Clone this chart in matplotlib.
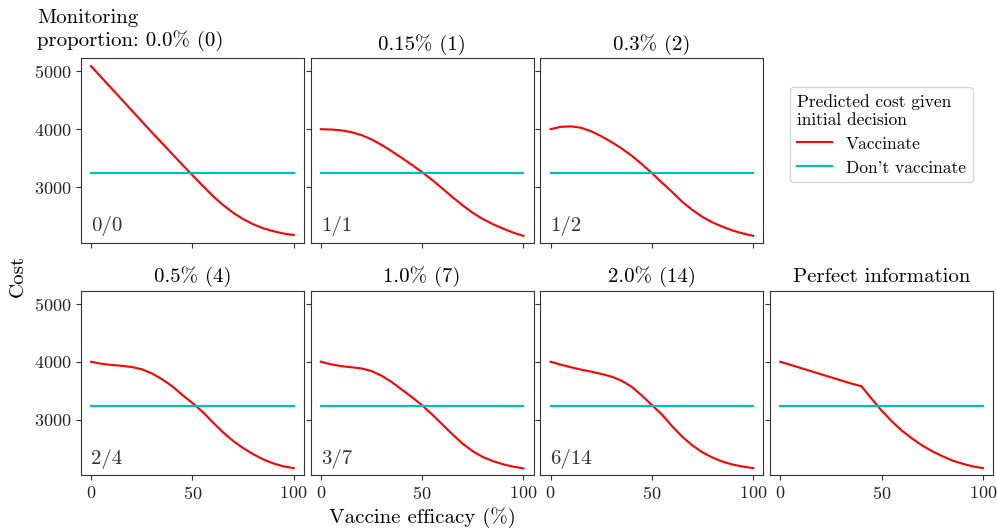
import numpy as np
import matplotlib
matplotlib.use("Agg")
import matplotlib.pyplot as plt

plt.rcParams["font.family"] = "serif"
plt.rcParams["font.serif"] = ["cmr10"]
plt.rcParams["mathtext.fontset"] = "cm"
plt.rcParams["axes.formatter.use_mathtext"] = True

# vaccine efficacy (%)
efficacy = [0, 5, 10, 15, 20, 25, 30, 35, 40, 45, 50,
            55, 60, 65, 70, 75, 80, 85, 90, 95, 100]

# predicted cost of vaccinating, one curve per monitoring level
cost_0 = [5085, 4895, 4705, 4515, 4325, 4135, 3945, 3760, 3575, 3390, 3210,
          3030, 2855, 2700, 2565, 2455, 2365, 2295, 2245, 2205, 2180]
cost_015 = [4000, 3995, 3980, 3950, 3900, 3825, 3730, 3620, 3505, 3385, 3260,
            3125, 2980, 2830, 2690, 2560, 2455, 2365, 2290, 2220, 2165]
cost_03 = [4000, 4040, 4050, 4025, 3965, 3880, 3780, 3670, 3545, 3400, 3245,
           3080, 2920, 2750, 2610, 2490, 2395, 2320, 2255, 2205, 2165]
cost_05 = [4000, 3965, 3945, 3930, 3910, 3870, 3800, 3700, 3580, 3430, 3290,
           3140, 2960, 2790, 2640, 2515, 2410, 2320, 2250, 2200, 2170]
cost_10 = [4000, 3955, 3925, 3905, 3885, 3840, 3760, 3650, 3520, 3390, 3250,
           3090, 2920, 2750, 2590, 2460, 2360, 2290, 2235, 2195, 2165]
cost_20 = [4000, 3950, 3905, 3865, 3830, 3790, 3745, 3675, 3570, 3420, 3255,
           3090, 2890, 2710, 2560, 2440, 2350, 2280, 2230, 2195, 2170]
cost_perfect = [4000, 3946, 3893, 3839, 3786, 3732, 3679, 3625, 3580, 3365, 3160,
                2975, 2815, 2680, 2560, 2460, 2375, 2300, 2245, 2200, 2170]

# predicted cost of not vaccinating (flat)
cost_no_vacc = 3240

titles = ["Monitoring\nproportion: 0.0% (0)", "0.15% (1)", "0.3% (2)",
          "0.5% (4)", "1.0% (7)", "2.0% (14)", "Perfect information"]
counts = ["0/0", "1/1", "1/2", "2/4", "3/7", "6/14", ""]
curves = [cost_0, cost_015, cost_03, cost_05, cost_10, cost_20, cost_perfect]
cells = [(0, 0), (0, 1), (0, 2), (1, 0), (1, 1), (1, 2), (1, 3)]

fig, axes = plt.subplots(2, 4, figsize=(9.97, 5.32), dpi=100,
                         sharex=True, sharey=True)
fig.subplots_adjust(left=0.0812, right=0.996, top=0.891, bottom=0.107,
                    wspace=0.031, hspace=0.26)

for title, count, curve, (r, c) in zip(titles, counts, curves, cells):
    ax = axes[r, c]
    ax.plot(efficacy, curve, color="r", lw=1.5, label="Vaccinate")
    ax.plot([efficacy[0], efficacy[-1]], [cost_no_vacc, cost_no_vacc],
            color="c", lw=1.6, label="Don't vaccinate")
    if r == 0 and c == 0:
        ax.text(-0.198, 1.04, title, transform=ax.transAxes, ha="left",
                va="bottom", fontsize=15)
    else:
        ax.set_title(title, fontsize=15)
    if count:
        ax.text(0.045, 0.06, count, transform=ax.transAxes, fontsize=15,
                color="#333333")
    for s in ax.spines.values():
        s.set_color("#333333")
    ax.tick_params(labelsize=13, colors="#333333", labelcolor="#222222")

ax_leg = axes[0, 3]
ax_leg.axis("off")
handles, labels = axes[0, 0].get_legend_handles_labels()
ax_leg.legend(handles, labels, loc="upper center", bbox_to_anchor=(0.5, 0.89),
              title="Predicted cost given\ninitial decision", fontsize=12.5,
              title_fontsize=12.5, alignment="left")

axes[0, 0].set_xticks([0, 50, 100])
axes[0, 0].set_yticks([3000, 4000, 5000])
axes[0, 0].set_xlim(-5, 105)
axes[0, 0].set_ylim(2050, 5225)
axes[1, 1].set_xlabel("Vaccine efficacy (%)", fontsize=15)
fig.text(0.018, 0.481, "Cost", rotation=90, ha="center", va="center",
         fontsize=15)

fig.savefig("out.png", dpi=100)
